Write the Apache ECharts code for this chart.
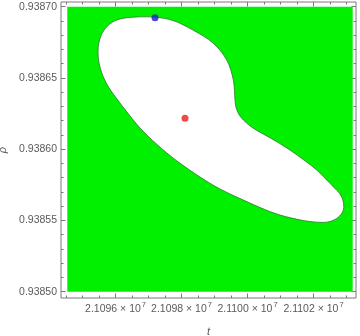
<!DOCTYPE html>
<html><head><meta charset="utf-8">
<script src="https://cdn.jsdelivr.net/npm/echarts@6/dist/echarts.min.js"></script>
<style>html,body{margin:0;padding:0;background:#fff}#c{width:360px;height:336px}</style>
</head><body><div id="c"></div>
<script>
// axis extents (frame) and filled region extents
const tRange = [21094348, 21103288];
const rhoRange = [0.9384956, 0.9387033];
const regionT = [21094539, 21103188];
const regionRho = [0.93850, 0.93870];

// boundary of the excluded (white) region, clockwise from the top
const boundaryT = [21096197, 21096652, 21097212, 21097742, 21098348, 21098955, 21099370, 21099570, 21099621, 21099667,
  21099773, 21099924, 21100176, 21100582, 21100885, 21101288, 21101712, 21102097, 21102400, 21102652,
  21102803, 21102888, 21102918, 21102879, 21102742, 21102500, 21102197, 21101682, 21100985, 21100379,
  21099773, 21099167, 21098561, 21097864, 21097258, 21096742, 21096348, 21096045, 21095788, 21095606,
  21095500, 21095470, 21095494, 21095576, 21095712, 21095924];
const boundaryRho = [0.9386917, 0.9386928, 0.9386926, 0.9386903, 0.9386836, 0.9386745, 0.9386626, 0.9386486, 0.9386345, 0.9386282,
  0.9386233, 0.9386194, 0.9386147, 0.9386093, 0.9386053, 0.9385994, 0.9385924, 0.9385854, 0.9385784, 0.9385724,
  0.9385686, 0.9385644, 0.9385601, 0.9385559, 0.9385521, 0.9385493, 0.9385487, 0.9385500, 0.9385538, 0.9385591,
  0.9385654, 0.9385721, 0.9385805, 0.9385917, 0.9386033, 0.9386149, 0.9386261, 0.9386352, 0.9386436, 0.9386521,
  0.9386605, 0.9386682, 0.9386745, 0.9386805, 0.9386854, 0.9386894];

const redPoint = [21098106, 0.9386217];
const bluePoint = [21097197, 0.9386923];

// ticks
const xMajor = [21096000, 21098000, 21100000, 21102000];
const xMinor = [21094500, 21095000, 21095500, 21096000, 21096500, 21097000, 21097500, 21098000, 21098500, 21099000,
  21099500, 21100000, 21100500, 21101000, 21101500, 21102000, 21102500, 21103000];
const yMajor = [0.93850, 0.93855, 0.93860, 0.93865, 0.93870];
const yMinor = [0.93850, 0.93851, 0.93852, 0.93853, 0.93854, 0.93855, 0.93856, 0.93857, 0.93858, 0.93859,
  0.93860, 0.93861, 0.93862, 0.93863, 0.93864, 0.93865, 0.93866, 0.93867, 0.93868, 0.93869, 0.93870];

const FONT = '"Liberation Sans", Arial, sans-serif';
const TXT = '#5a5a5a';
const FRAME = '#7a7a7a';

function xAx(pos, vals, len, withLabel) {
  const a = {
    type: 'value', position: pos, min: tRange[0], max: tRange[1], gridIndex: 0,
    axisLine: {show: false}, splitLine: {show: false},
    axisTick: {show: true, inside: true, length: len, customValues: vals, lineStyle: {color: FRAME, width: 1}},
    axisLabel: {show: false}
  };
  if (withLabel) {
    a.axisLabel = {
      show: true, customValues: vals, margin: 3, fontFamily: FONT,
      formatter: v => '{b|' + (v / 1e7).toFixed(4) + ' × 10}{s|7}',
      rich: {
        b: {fontSize: 10.5, color: TXT, fontFamily: FONT, lineHeight: 14, verticalAlign: 'bottom'},
        s: {fontSize: 7.5, color: TXT, fontFamily: FONT, lineHeight: 14, verticalAlign: 'top', padding: [0, 0, 0, 1]}
      }
    };
    a.name = 't';
    a.nameLocation = 'middle';
    a.nameGap = 28;
    a.nameTextStyle = {fontStyle: 'italic', fontSize: 11, color: TXT, fontFamily: FONT};
  }
  return a;
}
function yAx(pos, vals, len, withLabel) {
  const a = {
    type: 'value', position: pos, min: rhoRange[0], max: rhoRange[1], gridIndex: 0,
    axisLine: {show: false}, splitLine: {show: false},
    axisTick: {show: true, inside: true, length: len, customValues: vals, lineStyle: {color: FRAME, width: 1}},
    axisLabel: {show: false}
  };
  if (withLabel) {
    a.axisLabel = {show: true, customValues: vals, margin: 4, fontSize: 10.5, color: TXT, fontFamily: FONT,
      formatter: v => v.toFixed(5)};
    a.name = 'ρ';
    a.nameLocation = 'middle';
    a.nameGap = 51;
    a.nameRotate = 90;
    a.nameTextStyle = {fontStyle: 'italic', fontSize: 11, color: TXT, fontFamily: FONT};
  }
  return a;
}

// closed Catmull-Rom curve through screen points -> SVG path
function closedCurve(pts) {
  const n = pts.length;
  let d = 'M' + pts[0][0] + ' ' + pts[0][1];
  for (let i = 0; i < n; i++) {
    const p0 = pts[(i - 1 + n) % n], p1 = pts[i], p2 = pts[(i + 1) % n], p3 = pts[(i + 2) % n];
    const c1 = [p1[0] + (p2[0] - p0[0]) / 6, p1[1] + (p2[1] - p0[1]) / 6];
    const c2 = [p2[0] - (p3[0] - p1[0]) / 6, p2[1] - (p3[1] - p1[1]) / 6];
    d += 'C' + c1[0] + ' ' + c1[1] + ' ' + c2[0] + ' ' + c2[1] + ' ' + p2[0] + ' ' + p2[1];
  }
  return d + 'Z';
}

const chart = echarts.init(document.getElementById('c'), null, {renderer: 'canvas'});
chart.setOption({
  animation: false,
  backgroundColor: '#fff',
  grid: {left: 61, right: 4, top: 2, bottom: 38, containLabel: false, outerBoundsMode: 'none',
    show: true, borderColor: FRAME, borderWidth: 1, backgroundColor: '#fff'},
  xAxis: [xAx('bottom', xMajor, 4.5, true), xAx('top', xMajor, 4.5, false), xAx('bottom', xMinor, 2.5, false), xAx('top', xMinor, 2.5, false)],
  yAxis: [yAx('left', yMajor, 4.5, true), yAx('right', yMajor, 4.5, false), yAx('left', yMinor, 2.5, false), yAx('right', yMinor, 2.5, false)],
  series: [
    {
      type: 'custom', xAxisIndex: 0, yAxisIndex: 0, silent: true, z: 1,
      data: [[regionT[0], regionRho[0]]],
      renderItem: function (params, api) {
        const p0 = api.coord([regionT[0], regionRho[1]]);
        const p1 = api.coord([regionT[1], regionRho[0]]);
        const pts = boundaryT.map((t, i) => api.coord([t, boundaryRho[i]]));
        return {
          type: 'group',
          children: [
            {type: 'rect', shape: {x: p0[0], y: p0[1], width: p1[0] - p0[0], height: p1[1] - p0[1]}, style: {fill: '#00f000'}},
            {type: 'path', shape: {pathData: closedCurve(pts)}, style: {fill: '#ffffff', stroke: '#2f7a2f', lineWidth: 0.8}}
          ]
        };
      }
    },
    {
      type: 'scatter', xAxisIndex: 0, yAxisIndex: 0, z: 5, symbolSize: 7, silent: true,
      data: [redPoint], itemStyle: {color: '#ee1c1c'}
    },
    {
      type: 'scatter', xAxisIndex: 0, yAxisIndex: 0, z: 5, symbolSize: 7, silent: true,
      data: [bluePoint], itemStyle: {color: '#1a1ac8'}
    }
  ]
});
</script></body></html>
